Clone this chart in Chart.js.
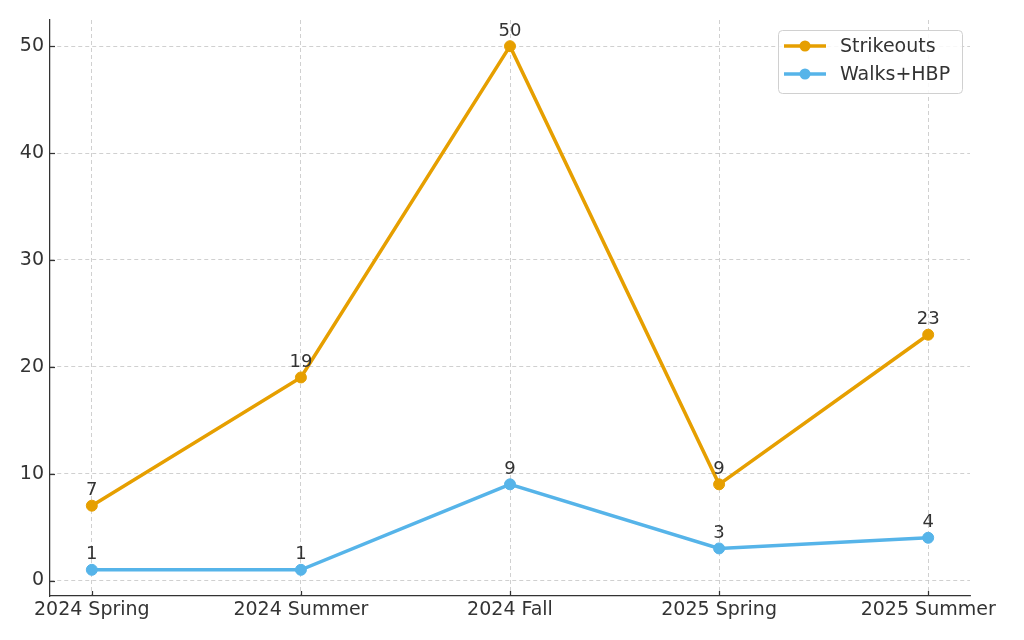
<!DOCTYPE html>
<html><head><meta charset="utf-8">
<script src="https://cdn.jsdelivr.net/npm/chart.js@4"></script>
<style>html,body{margin:0;padding:0;background:#fff}#wrap{width:1024px;height:640px}</style>
</head><body><div id="wrap"><canvas id="c" width="1024" height="640"></canvas></div>
<script>
const categories = ["2024 Spring","2024 Summer","2024 Fall","2025 Spring","2025 Summer"];
const strikeouts = [7,19,50,9,23];
const walksHbp = [1,1,9,3,4];
const yTicks = [0,10,20,30,40,50];
const seriesNames = ["Strikeouts","Walks+HBP"];
const seriesColors = ["#E69F00","#56B4E9"];

const FONT = "'DejaVu Sans', sans-serif";
const TXT = "#333333";

const toPts = arr => arr.map((v,i)=>({x:i,y:v}));

const extras = {
  id:'extras',
  afterDatasetsDraw(chart){
    const ctx = chart.ctx;
    const xs = chart.scales.x, ys = chart.scales.y;
    ctx.save();
    // inward ticks
    ctx.strokeStyle = '#333'; ctx.lineWidth = 1.25;
    yTicks.forEach(v=>{const y=Math.round(ys.getPixelForValue(v))+0.5; ctx.beginPath(); ctx.moveTo(xs.left,y); ctx.lineTo(xs.left+5,y); ctx.stroke();});
    categories.forEach((c,i)=>{const x=Math.round(xs.getPixelForValue(i))+0.5; ctx.beginPath(); ctx.moveTo(x,ys.bottom); ctx.lineTo(x,ys.bottom-5); ctx.stroke();});
    // data labels
    ctx.fillStyle = TXT; ctx.font = "18px " + FONT; ctx.textAlign='center'; ctx.textBaseline='alphabetic';
    chart.data.datasets.forEach((ds,di)=>{
      const meta = chart.getDatasetMeta(di);
      meta.data.forEach((pt,i)=>{ ctx.fillText(String(ds.data[i].y), pt.x, pt.y-10.5); });
    });
    // legend
    const bx=778.5, by=30.5, bw=184, bh=63;
    ctx.fillStyle='rgba(255,255,255,0.85)'; ctx.strokeStyle='#d0d0d0'; ctx.lineWidth=1;
    const r=4;
    ctx.beginPath();
    ctx.moveTo(bx+r,by); ctx.lineTo(bx+bw-r,by); ctx.quadraticCurveTo(bx+bw,by,bx+bw,by+r);
    ctx.lineTo(bx+bw,by+bh-r); ctx.quadraticCurveTo(bx+bw,by+bh,bx+bw-r,by+bh);
    ctx.lineTo(bx+r,by+bh); ctx.quadraticCurveTo(bx,by+bh,bx,by+bh-r);
    ctx.lineTo(bx,by+r); ctx.quadraticCurveTo(bx,by,bx+r,by); ctx.closePath();
    ctx.fill(); ctx.stroke();
    seriesNames.forEach((n,i)=>{
      const y = 46 + i*28;
      ctx.strokeStyle = seriesColors[i]; ctx.lineWidth=3.5;
      ctx.beginPath(); ctx.moveTo(784,y); ctx.lineTo(826,y); ctx.stroke();
      ctx.fillStyle = seriesColors[i]; ctx.beginPath(); ctx.arc(805,y,5.5,0,Math.PI*2); ctx.fill();
      ctx.fillStyle = TXT; ctx.font="19px "+FONT; ctx.textAlign='left'; ctx.textBaseline='middle';
      ctx.fillText(n, 840, y+1);
    });
    ctx.restore();
  }
};

new Chart(document.getElementById('c'), {
  type:'line',
  data:{
    datasets:[
      {label:seriesNames[0], data:toPts(strikeouts), borderColor:seriesColors[0], backgroundColor:seriesColors[0], borderWidth:3.5, pointRadius:5.5, pointHoverRadius:5.5, pointBorderWidth:1, tension:0},
      {label:seriesNames[1], data:toPts(walksHbp), borderColor:seriesColors[1], backgroundColor:seriesColors[1], borderWidth:3.5, pointRadius:5.5, pointHoverRadius:5.5, pointBorderWidth:1, tension:0}
    ]
  },
  options:{
    responsive:false, animation:false,
    layout:{padding:{top:20,right:54,left:0,bottom:0}},
    plugins:{legend:{display:false}, tooltip:{enabled:false}},
    scales:{
      x:{type:'linear', min:-0.2, max:4.2,
        afterBuildTicks:s=>{s.ticks = categories.map((c,i)=>({value:i}));},
        afterFit:s=>{s.height=44;},
        ticks:{autoSkip:false, maxRotation:0, padding:3, color:TXT, font:{family:FONT,size:19}, callback:v=>categories[v]},
        grid:{color:'#c4c4c4', lineWidth:0.8, drawTicks:false},
        border:{display:true, color:'#333', width:1.25, dash:[4,3]}
      },
      y:{type:'linear', min:-1.45, max:52.45,
        afterBuildTicks:s=>{s.ticks = yTicks.map(v=>({value:v}));},
        afterFit:s=>{s.width=50;},
        ticks:{padding:6, color:TXT, font:{family:FONT,size:19}},
        grid:{color:'#c4c4c4', lineWidth:0.8, drawTicks:false},
        border:{display:true, color:'#333', width:1.25, dash:[4,3]}
      }
    }
  },
  plugins:[extras]
});
</script>
</body></html>
